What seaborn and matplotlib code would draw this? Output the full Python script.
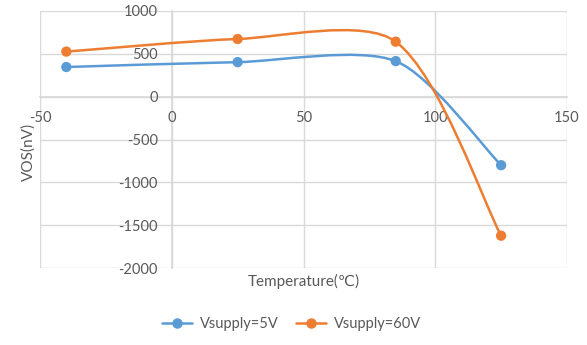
import numpy as np
import pandas as pd
import matplotlib
matplotlib.use("Agg")
import matplotlib.pyplot as plt
import seaborn as sns
from matplotlib.path import Path
from matplotlib.patches import PathPatch
from matplotlib.lines import Line2D

temperature = [-40, 25, 85, 125]
vos_5v = [346, 403, 415, -800]
vos_60v = [526, 673, 642, -1623]
series_names = ["Vsupply=5V", "Vsupply=60V"]
colors = ["#5B9BD5", "#ED7D31"]
x_ticks = [-50, 0, 50, 100, 150]
y_ticks = [-2000, -1500, -1000, -500, 0, 500, 1000]

sns.set_theme(style="white")
plt.rcParams['font.family'] = ['Lato', 'DejaVu Sans', 'Noto Sans CJK SC']
plt.rcParams['axes.unicode_minus'] = False
text_color = "#595959"
grid_color = "#d9d9d9"

fig = plt.figure(figsize=(5.87, 3.45), dpi=100)
ax = fig.add_axes([40/587, 1-268/345, (567-40)/587, (268-11)/345])

df = pd.DataFrame({
    "T": temperature * 2,
    "VOS": vos_5v + vos_60v,
    "series": [series_names[0]] * 4 + [series_names[1]] * 4,
})

ax.set_xlim(-50, 150)
ax.set_ylim(-2000, 1000)


def smooth_path(xs, ys, tension=1/6, clamp=0.25):
    # Excel-like smoothed line, computed in display space
    disp = ax.transData.transform(np.column_stack([xs, ys]).astype(float))
    n = len(disp)
    verts = [disp[0]]
    codes = [Path.MOVETO]
    for i in range(n - 1):
        p0 = disp[i - 1] if i > 0 else disp[i]
        p1 = disp[i]
        p2 = disp[i + 1]
        p3 = disp[i + 2] if i + 2 < n else disp[i + 1]
        chord = np.linalg.norm(p2 - p1)
        t1 = (p2 - p0) * tension
        t2 = (p3 - p1) * tension
        for t in (t1, t2):
            L = np.linalg.norm(t)
            if L > clamp * chord and L > 0:
                t *= clamp * chord / L
        c1 = p1 + t1
        c2 = p2 - t2
        verts += [c1, c2, p2]
        codes += [Path.CURVE4] * 3
    data_verts = ax.transData.inverted().transform(np.array(verts))
    return Path(data_verts, codes)


for name, vals, c in zip(series_names, [vos_5v, vos_60v], colors):
    path = smooth_path(temperature, vals)
    patch = PathPatch(path, facecolor="none", edgecolor=c, lw=1.8, zorder=3,
                      capstyle="round")
    ax.add_patch(patch)

sns.scatterplot(data=df, x="T", y="VOS", hue="series", palette=colors,
                s=55, edgecolor="none", ax=ax, zorder=4, legend=False)

ax.set_xticks(x_ticks)
ax.set_yticks(y_ticks)
ax.grid(True, color=grid_color, lw=1)
ax.set_axisbelow(True)
for s in ["top", "right"]:
    ax.spines[s].set_visible(False)
ax.spines["left"].set_position(("data", 0))
ax.spines["bottom"].set_position(("data", 0))
ax.spines["left"].set_color(grid_color)
ax.spines["bottom"].set_color(grid_color)
ax.spines["left"].set_zorder(0.5)
ax.spines["bottom"].set_zorder(0.5)
ax.tick_params(axis="both", length=0, labelsize=10.5, labelcolor=text_color)
ax.tick_params(axis="y", pad=10)
ax.tick_params(axis="x", pad=10)

ax.set_xlabel("Temperature(℃)", color=text_color, fontsize=11)
ax.set_ylabel("VOS(nV)", color=text_color, fontsize=11)
ax.xaxis.set_label_coords(0.5, -0.025)
ax.yaxis.set_label_coords(-0.008, 0.45)

handles = [Line2D([0], [0], color=c, lw=1.8, marker="o", markersize=6.5)
           for c in colors]
leg = fig.legend(handles, series_names, loc="center", bbox_to_anchor=(0.497, 0.06),
                 ncol=2, frameon=False, fontsize=10.5, handlelength=2.05,
                 columnspacing=1.2, handletextpad=0.55)
for t in leg.get_texts():
    t.set_color(text_color)

fig.savefig("out.png", dpi=100, facecolor="white")
